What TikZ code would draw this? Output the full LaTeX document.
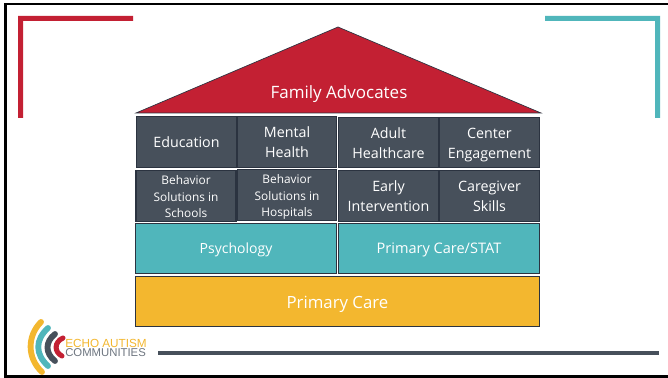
\documentclass[tikz,border=0pt]{standalone}
\usepackage{fontspec}
\setmainfont{Open Sans}
\newfontfamily\logofont{Liberation Sans}
\definecolor{redc}{HTML}{C32033}
\definecolor{tealc}{HTML}{50B6BB}
\definecolor{slatec}{HTML}{47505B}
\definecolor{goldc}{HTML}{F3B72F}
\definecolor{edgec}{HTML}{2B3340}
\definecolor{greyc}{HTML}{6E7680}
\tikzset{
  cell/.style={draw=edgec,line width=0.8pt,fill=slatec,text=white,align=center,inner sep=0pt},
  tealcell/.style={draw=edgec,line width=0.6pt,fill=tealc,text=white,align=center},
  goldcell/.style={draw=edgec,line width=0.6pt,fill=goldc,text=white,align=center},
  big/.style={font=\fontsize{10.7}{15}\selectfont},
  small/.style={font=\fontsize{8.9}{12.4}\selectfont},
  logoarc/.style={line cap=round,line width=4.4pt},
  logotext/.style={anchor=west,inner sep=0pt},
  frameline/.style={black,line width=1.8pt},
}
\begin{document}
\begin{tikzpicture}[x=0.75pt,y=-0.75pt]
\useasboundingbox (0,0) rectangle (668,378);
\fill[white] (0,0) rectangle (668,378);
\draw[frameline] (668,4) -- (5.5,4) -- (5.5,376.5) -- (668,376.5);
\fill[redc] (18,16) -- (133,16) -- (133,21) -- (23,21) -- (23,118) -- (18,118) -- cycle;
\fill[tealc] (545,16) -- (660,16) -- (660,118) -- (655,118) -- (655,21) -- (545,21) -- cycle;
\filldraw[fill=redc,draw=edgec,line width=0.5pt] (136,113) -- (338,27) -- (541,113) -- cycle;
\node[text=white,font=\fontsize{12.75}{14}\selectfont] (fa) at (339,94.5) {Family Advocates};
\node[cell,big,minimum width=100.5*0.75pt,minimum height=50.5*0.75pt] (edu) at (186.5,142) {Education};
\node[cell,big,minimum width=99.5*0.75pt,minimum height=50.5*0.75pt] (mh) at (287,142) {Mental\\Health};
\node[cell,minimum width=100.5*0.75pt,minimum height=50.5*0.75pt] (adult) at (388.5,142.5) {};
\node[font=\fontsize{10.7}{15}\selectfont,align=center,text=white,inner sep=0pt] (adultt) at (388.5,143) {Adult\\Healthcare};
\node[cell,minimum width=99.5*0.75pt,minimum height=50.5*0.75pt] (center) at (489.5,142.5) {};
\node[font=\fontsize{10.7}{15}\selectfont,align=center,text=white,inner sep=0pt] (centert) at (489.5,145) {Center\\Engagement};
\node[cell,line width=1.2pt,minimum width=100.5*0.75pt,minimum height=51*0.75pt] (bss) at (186,196) {};
\node[small,align=center,text=white,inner sep=0pt] (bsst) at (186,197) {Behavior\\Solutions in\\Schools};
\node[cell,minimum width=99.5*0.75pt,minimum height=51*0.75pt] (bsh) at (287,195) {};
\node[small,align=center,text=white,inner sep=0pt] (bsht) at (287,197) {Behavior\\Solutions in\\Hospitals};
\node[cell,big,minimum width=100.5*0.75pt,minimum height=51*0.75pt] (early) at (388.5,196) {Early\\Intervention};
\node[cell,minimum width=99.5*0.75pt,minimum height=51*0.75pt] (care) at (489.5,196) {};
\node[big,align=center,text=white,inner sep=0pt] (caret) at (489.5,196.5) {Caregiver\\Skills};
\node[tealcell,minimum width=200.5*0.75pt,minimum height=50*0.75pt] (psy) at (236,248.5) {};
\node[text=white,inner sep=0pt,font=\fontsize{10.5}{14}\selectfont] (psyt) at (236,249.5) {Psychology};
\node[tealcell,minimum width=200.5*0.75pt,minimum height=50*0.75pt] (pc) at (439,248.5) {};
\node[text=white,inner sep=0pt,font=\fontsize{10.9}{14}\selectfont] (pct) at (439,250) {Primary Care/STAT};
\node[goldcell,minimum width=404*0.75pt,minimum height=50*0.75pt] (prim) at (337.5,301.5) {};
\node[text=white,inner sep=0pt,font=\fontsize{12.6}{14}\selectfont] (primt) at (337.5,304) {Primary Care};
\fill[slatec] (158,350.5) rectangle (659,355);
% logo
\draw[goldc,logoarc] (41,322) .. controls (27,336) and (27,358) .. (42,372);
\draw[tealc,logoarc] (48,328) .. controls (35,340) and (35,354) .. (48,366);
\draw[slatec,logoarc] (55,334) .. controls (45,342) and (45,353) .. (55,361);
\draw[redc,logoarc,line width=3.8pt] (63,338) .. controls (54,342) and (54,352) .. (62,356);
\node[logotext,text=goldc,font=\logofont\fontsize{8.8}{9}\selectfont] (l1) at (65,343) {ECHO AUTISM};
\node[logotext,text=greyc,font=\logofont\fontsize{8.5}{9}\selectfont] (l2) at (65,353) {COMMUNITIES};
\end{tikzpicture}
\end{document}
